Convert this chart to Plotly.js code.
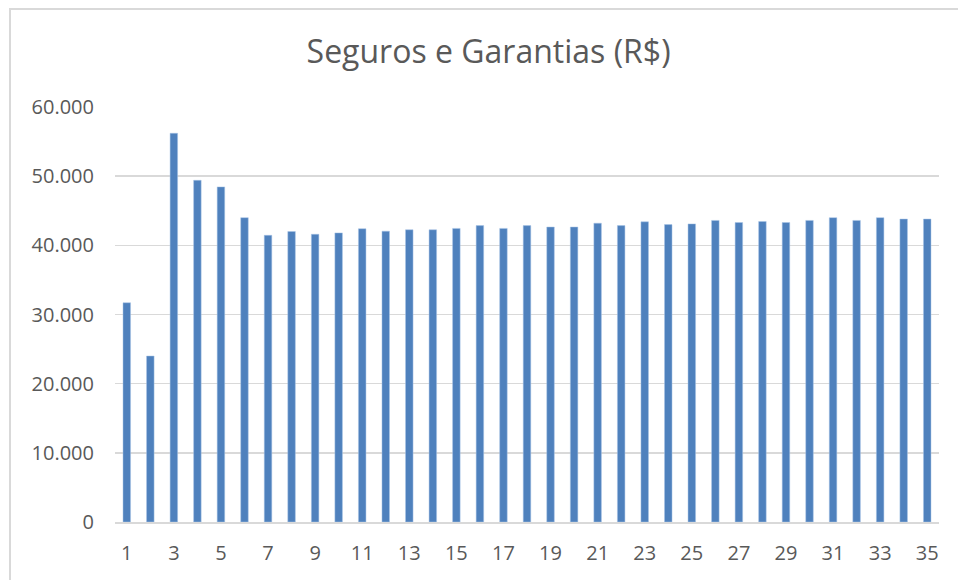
<!DOCTYPE html>
<html>
<head>
<meta charset="utf-8">
<script src="https://cdn.plot.ly/plotly-3.0.1.min.js"></script>
<style>
html,body{margin:0;padding:0;background:#fff;}
#chart{width:958px;height:580px;}
#frame{position:absolute;left:9px;top:8px;width:960px;height:600px;border-left:2px solid #d9d9d9;border-top:2px solid #d9d9d9;pointer-events:none;}
</style>
</head>
<body>
<div id="chart"></div>
<div id="frame"></div>
<script>
const periods = Array.from({length: 35}, (_, i) => i + 1);
const values = [31700, 24000, 56200, 49400, 48450, 44000, 41450, 42000, 41600, 41800,
                42400, 42050, 42250, 42250, 42450, 42850, 42450, 42850, 42650, 42650,
                43200, 42850, 43400, 43000, 43100, 43600, 43300, 43450, 43300, 43600,
                44000, 43600, 44000, 43800, 43800];
const chartTitle = "Seguros e Garantias (R$)";

const trace = {
  type: 'bar',
  x: periods,
  y: values,
  marker: {color: '#4f81bd', line: {color: '#a9c4e6', width: 0.5}},
  hoverinfo: 'x+y'
};

const layout = {
  width: 958, height: 580,
  margin: {l: 115, r: 19, t: 107, b: 58},
  paper_bgcolor: '#fff', plot_bgcolor: '#fff',
  separators: ',.',
  bargap: 0.68,
  showlegend: false,
  title: {text: chartTitle, font: {family: 'Open Sans, sans-serif', size: 32, color: '#595959'}, x: 0.51, xanchor: 'center', y: 0.91, yanchor: 'middle'},
  font: {family: 'Open Sans, sans-serif', color: '#595959'},
  xaxis: {
    range: [0.5, 35.5], tickmode: 'linear', tick0: 1, dtick: 2,
    showgrid: false, zeroline: false, showline: true, linecolor: '#d9d9d9', linewidth: 1.5,
    ticks: '', tickfont: {size: 20, color: '#595959'}, ticklen: 0, ticklabelstandoff: 12
  },
  yaxis: {
    range: [0, 60000], tickmode: 'linear', tick0: 0, dtick: 10000, tickformat: ',d',
    showgrid: true, gridcolor: '#d9d9d9', gridwidth: 1.5, zeroline: false, showline: false,
    ticks: '', tickfont: {size: 20, color: '#595959'}, ticklabelstandoff: 20
  }
};

Plotly.newPlot('chart', [trace], layout, {displayModeBar: false, staticPlot: true});
</script>
</body>
</html>
